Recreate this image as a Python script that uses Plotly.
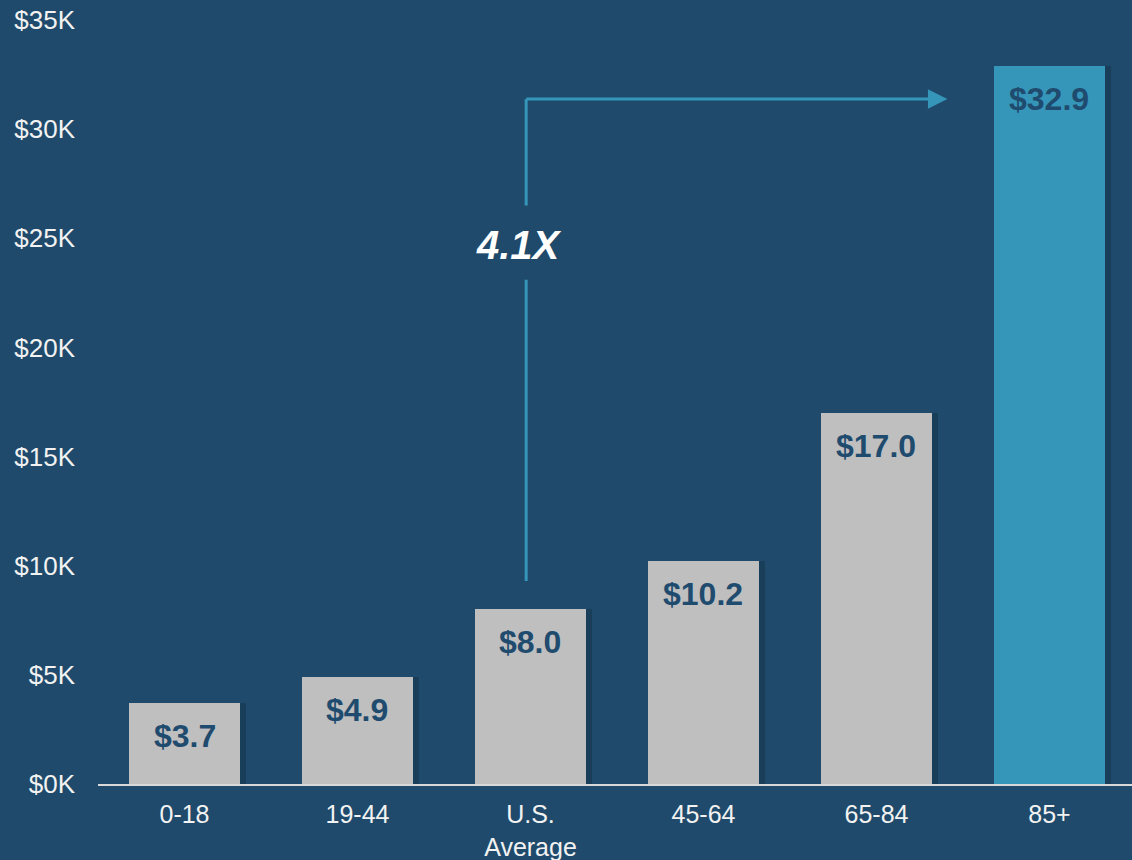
import plotly.graph_objects as go

categories = ["0-18", "19-44", "U.S.<br>Average", "45-64", "65-84", "85+"]
values = [3.7, 4.9, 8.0, 10.2, 17.0, 32.9]
labels = ["$3.7", "$4.9", "$8.0", "$10.2", "$17.0", "$32.9"]
bar_colors = ["#BFBFBF", "#BFBFBF", "#BFBFBF", "#BFBFBF", "#BFBFBF", "#3596B9"]
y_ticks = [0, 5, 10, 15, 20, 25, 30, 35]
y_tick_labels = ["$0K", "$5K", "$10K", "$15K", "$20K", "$25K", "$30K", "$35K"]
multiple_text = "4.1X"

BG = "#1F4A6B"
LABEL = "#1F4B6E"
TEAL = "#3596B9"
FONT = "Liberation Sans, Arial, sans-serif"

xs = list(range(len(categories)))

fig = go.Figure()
# subtle shadow
fig.add_trace(go.Bar(x=[x + 0.03 for x in xs], y=values, width=0.647,
                     marker=dict(color="rgba(15,40,60,0.35)", line=dict(width=0)),
                     hoverinfo="skip", showlegend=False))
fig.add_trace(go.Bar(x=xs, y=values, width=0.647,
                     marker=dict(color=bar_colors, line=dict(width=0)),
                     showlegend=False))

fig.update_layout(barmode="overlay")

for x, v, t in zip(xs, values, labels):
    fig.add_annotation(x=x, y=v, text=t, showarrow=False, yshift=-33,
                       font=dict(family=FONT, size=32, color=LABEL, weight="bold"))

# arrow path
ux = 2 - 0.025
y_top = 31.38
fig.add_shape(type="line", x0=ux, x1=ux, y0=9.3, y1=23.1,
              line=dict(color=TEAL, width=3))
fig.add_shape(type="line", x0=ux, x1=ux, y0=26.5, y1=y_top,
              line=dict(color=TEAL, width=3))
fig.add_annotation(x=4.41, y=y_top, ax=ux - 0.008, ay=y_top, axref="x", ayref="y",
                   xref="x", yref="y", showarrow=True, arrowhead=2, arrowsize=1.3,
                   arrowwidth=3, arrowcolor=TEAL, text="")
fig.add_annotation(x=ux - 0.04, y=24.7, text="<i><b>" + multiple_text + "</b></i>",
                   showarrow=False,
                   font=dict(family=FONT, size=40, color="#FFFFFF"))

fig.update_xaxes(range=[-0.5, 5.477], tickmode="array", tickvals=xs, ticktext=categories,
                 showgrid=False, zeroline=False, showline=True, linecolor="#D9D9D9",
                 linewidth=2, ticks="", ticklabelstandoff=7, automargin=False,
                 tickfont=dict(family=FONT, size=25, color="#F2F2F2"))
fig.update_yaxes(range=[0, 35], tickmode="array", tickvals=y_ticks, ticktext=y_tick_labels,
                 showgrid=False, zeroline=False, showline=False, ticks="",
                 ticklabelstandoff=22, automargin=False,
                 tickfont=dict(family=FONT, size=26, color="#F2F2F2"))

fig.update_layout(width=1132, height=860, paper_bgcolor=BG, plot_bgcolor=BG,
                  margin=dict(l=98, r=0, t=20, b=76), bargap=0)

fig.write_html("out.html", config={"displayModeBar": False},
               post_script="document.body.style.margin='0';document.body.style.overflow='hidden';")
